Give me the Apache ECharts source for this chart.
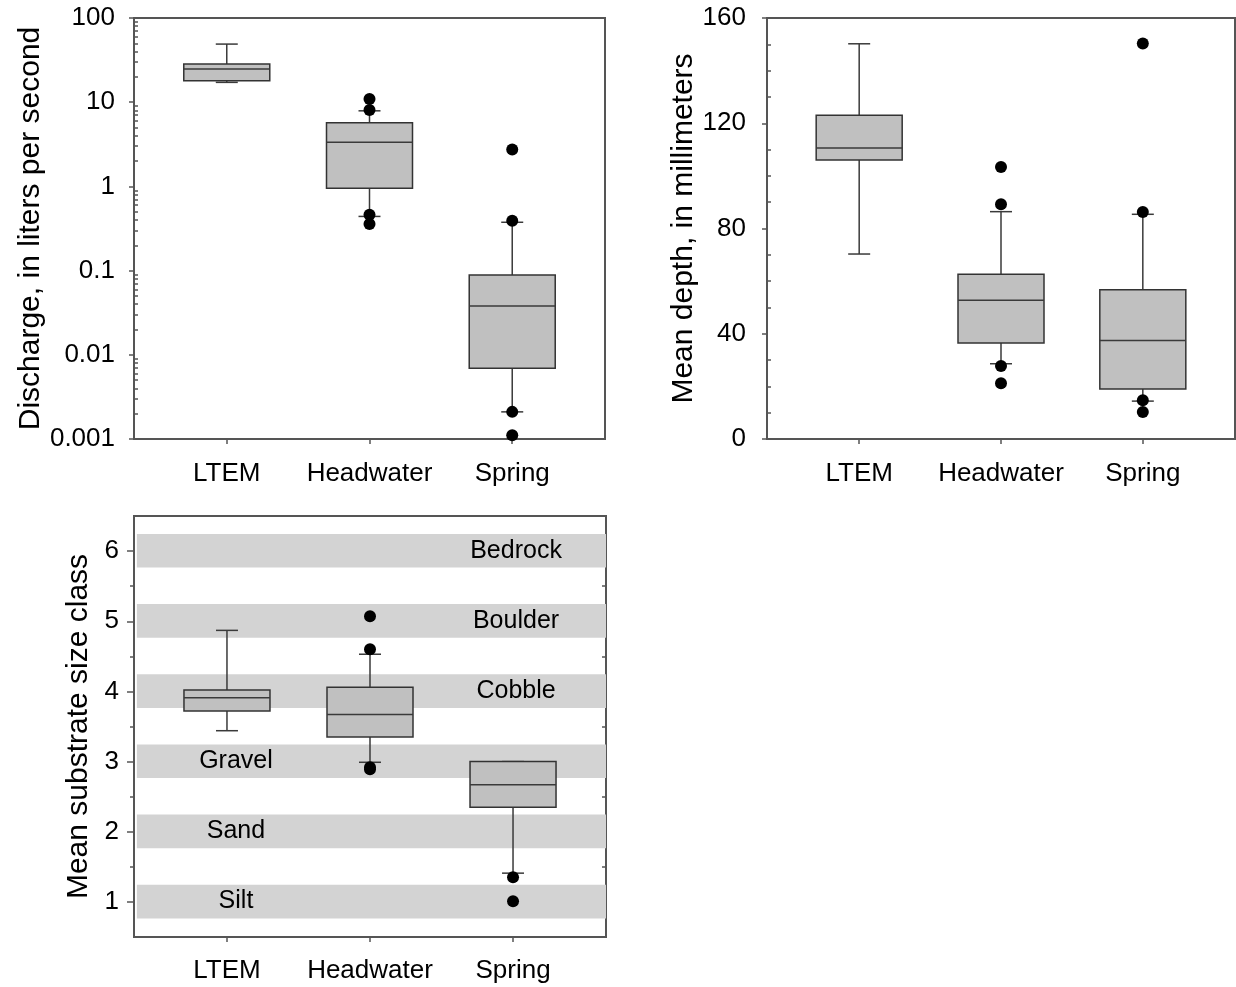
<!DOCTYPE html>
<html><head><meta charset="utf-8">
<script src="https://cdn.jsdelivr.net/npm/echarts@6/dist/echarts.min.js"></script>
<style>html,body{margin:0;padding:0;background:#fff}#c{width:1236px;height:987px}</style>
</head><body><div id="c"></div>
<script>
const categories = ['LTEM', 'Headwater', 'Spring'];
// box statistics: [min, Q1, median, Q3, max]
const dischargeBoxes = [[17.2, 18, 24.8, 28.5, 49], [0.44, 0.95, 3.34, 5.7, 7.9], [0.0021, 0.0069, 0.038, 0.0887, 0.375]];
const dischargeOutliers = [[], [10.9, 8.1, 0.46, 0.357], [2.75, 0.39, 0.0021, 0.00111]];
const depthBoxes = [[70.3, 106, 110.6, 123, 150.2], [28.6, 36.5, 52.7, 62.6, 86.4], [14.4, 19, 37.4, 56.7, 85.4]];
const depthOutliers = [[], [103.4, 89.2, 27.7, 21.2], [150.3, 86.3, 14.7, 10.3]];
const substrateBoxes = [[3.44, 3.72, 3.91, 4.02, 4.87], [2.99, 3.35, 3.67, 4.06, 4.53], [1.41, 2.35, 2.67, 3.0, 3.0]];
const substrateOutliers = [[], [5.07, 4.6, 2.92, 2.89], [1.35, 1.01]];
const sizeClasses = [1, 2, 3, 4, 5, 6];
const sizeClassNames = ['Silt', 'Sand', 'Gravel', 'Cobble', 'Boulder', 'Bedrock'];
const depthTicks = [0, 40, 80, 120, 160];
const substrateTicks = [1, 2, 3, 4, 5, 6];

const FONT = '"Liberation Sans", Arial, sans-serif';
const FRAME = '#555';
const TXT = '#000';
const catPos = categories.map((c, i) => i + 1);

function boxData(boxes) { return boxes.map((b, i) => [i + 1].concat(b)); }
function outlierData(outs) { const r = []; outs.forEach((o, i) => o.forEach(v => r.push([i + 1, v]))); return r; }

function renderBox(params, api) {
  const x = api.value(0);
  const pMin = api.coord([x, api.value(1)]);
  const pQ1 = api.coord([x, api.value(2)]);
  const pMed = api.coord([x, api.value(3)]);
  const pQ3 = api.coord([x, api.value(4)]);
  const pMax = api.coord([x, api.value(5)]);
  const cx = pQ1[0], hw = 43, cw = 11;
  const ls = { stroke: '#3a3a3a', lineWidth: 1.5, fill: null };
  return { type: 'group', children: [
    { type: 'line', shape: { x1: cx, y1: pQ3[1], x2: cx, y2: pMax[1] }, style: ls },
    { type: 'line', shape: { x1: cx, y1: pQ1[1], x2: cx, y2: pMin[1] }, style: ls },
    { type: 'line', shape: { x1: cx - cw, y1: pMax[1], x2: cx + cw, y2: pMax[1] }, style: ls },
    { type: 'line', shape: { x1: cx - cw, y1: pMin[1], x2: cx + cw, y2: pMin[1] }, style: ls },
    { type: 'rect', shape: { x: cx - hw, y: pQ3[1], width: 2 * hw, height: pQ1[1] - pQ3[1] }, style: { fill: '#c0c0c0', stroke: '#333', lineWidth: 1.5 } },
    { type: 'line', shape: { x1: cx - hw, y1: pMed[1], x2: cx + hw, y2: pMed[1] }, style: ls }
  ] };
}

function renderBand(params, api) {
  const c = api.value(0);
  const lo = api.coord([0.37, c - 0.235]);
  const hi = api.coord([3.65, c + 0.245]);
  const mid = api.coord([c <= 3 ? 1 : 3, c + 0.005]);
  return { type: 'group', children: [
    { type: 'rect', shape: { x: lo[0], y: hi[1], width: hi[0] - lo[0], height: lo[1] - hi[1] }, style: { fill: '#d3d3d3' } },
    { type: 'text', x: mid[0] + (c <= 3 ? 9 : 3), y: mid[1], style: { text: sizeClassNames[api.value(1)], fill: TXT, font: '25px ' + FONT, align: 'center', verticalAlign: 'middle' } }
  ] };
}

function xAx(g, margin) {
  return { type: 'value', gridIndex: g, min: 0.35, max: 3.65,
    axisLine: { show: true, onZero: false, lineStyle: { color: FRAME, width: 2 } },
    axisTick: { show: true, customValues: catPos, length: 5, inside: false, lineStyle: { color: FRAME, width: 1.5 } },
    axisLabel: { customValues: catPos, formatter: v => categories[Math.round(v) - 1], fontSize: 26, color: TXT, fontFamily: FONT, margin: margin },
    splitLine: { show: false } };
}
function overlayY(g, min, max, ticks, inside, len, pos) {
  return { type: 'value', gridIndex: g, min: min, max: max, position: pos || 'left',
    axisLine: { show: false, onZero: false }, axisLabel: { show: false }, splitLine: { show: false },
    axisTick: { show: true, customValues: ticks, inside: inside, length: len, lineStyle: { color: FRAME, width: 1.5 } } };
}
const logMinor = [];
for (let k = -3; k <= 1; k++) for (let m = 2; m <= 9; m++) logMinor.push(k + Math.log10(m));
const halves = substrateTicks.slice(0, -1).map(v => v + 0.5);
const depthMinor = [];
for (let v = 10; v < 160; v += 10) if (v % 40) depthMinor.push(v);

const nameStyle = { fontSize: 30, color: TXT, fontFamily: FONT };
const labStyle = { fontSize: 26, color: TXT, fontFamily: FONT };
const dotStyle = { color: '#000', opacity: 1 };

const option = {
  animation: false,
  backgroundColor: '#fff',
  grid: [
    { left: 134, top: 18, width: 471, height: 421, show: true, borderColor: FRAME, borderWidth: 2, containLabel: false },
    { left: 767, top: 18, width: 468, height: 421, show: true, borderColor: FRAME, borderWidth: 2, containLabel: false },
    { left: 134, top: 516, width: 472, height: 421, show: true, borderColor: FRAME, borderWidth: 2, containLabel: false }
  ],
  xAxis: [xAx(0, 22), xAx(1, 22), xAx(2, 21)],
  yAxis: [
    { type: 'log', gridIndex: 0, logBase: 10, min: 0.001, max: 100, splitNumber: 5,
      axisLine: { show: true, onZero: false, lineStyle: { color: FRAME, width: 2 } },
      axisTick: { show: true, inside: false, length: 5, lineStyle: { color: FRAME, width: 1.5 } },
      axisLabel: Object.assign({ margin: 19, formatter: v => String(+(+v).toPrecision(3)) }, labStyle),
      splitLine: { show: false },
      name: 'Discharge, in liters per second', nameLocation: 'middle', nameGap: 86, nameRotate: 90, nameTextStyle: nameStyle },
    overlayY(0, -3, 2, logMinor, true, 4),
    { type: 'value', gridIndex: 1, min: 0, max: 160,
      axisLine: { show: true, onZero: false, lineStyle: { color: FRAME, width: 2 } },
      axisTick: { show: true, customValues: depthTicks, inside: false, length: 5, lineStyle: { color: FRAME, width: 1.5 } },
      axisLabel: Object.assign({ margin: 21, customValues: depthTicks }, labStyle),
      splitLine: { show: false },
      name: 'Mean depth, in millimeters', nameLocation: 'middle', nameGap: 68, nameRotate: 90, nameTextStyle: nameStyle },
    overlayY(1, 0, 160, depthMinor, true, 4),
    { type: 'value', gridIndex: 2, min: 0.5, max: 6.5,
      axisLine: { show: true, onZero: false, lineStyle: { color: FRAME, width: 2 } },
      axisTick: { show: true, customValues: substrateTicks, inside: false, length: 7, lineStyle: { color: FRAME, width: 1.5 } },
      axisLabel: Object.assign({ margin: 15, customValues: substrateTicks }, labStyle),
      splitLine: { show: false },
      name: 'Mean substrate size class', nameLocation: 'middle', nameGap: 40, nameRotate: 90, nameTextStyle: nameStyle },
    overlayY(2, 0.5, 6.5, halves, false, 4),
    overlayY(2, 0.5, 6.5, halves, true, 4, 'right')
  ],
  series: [
    { type: 'custom', xAxisIndex: 2, yAxisIndex: 4, z: 1, renderItem: renderBand,
      encode: { x: 0, y: 0 }, data: sizeClasses.map((c, i) => [c, i]), silent: true },
    { type: 'custom', xAxisIndex: 0, yAxisIndex: 0, z: 3, renderItem: renderBox,
      encode: { x: 0, y: [1, 2, 3, 4, 5] }, data: boxData(dischargeBoxes) },
    { type: 'scatter', xAxisIndex: 0, yAxisIndex: 0, z: 4, symbolSize: 12, itemStyle: dotStyle, data: outlierData(dischargeOutliers) },
    { type: 'custom', xAxisIndex: 1, yAxisIndex: 2, z: 3, renderItem: renderBox,
      encode: { x: 0, y: [1, 2, 3, 4, 5] }, data: boxData(depthBoxes) },
    { type: 'scatter', xAxisIndex: 1, yAxisIndex: 2, z: 4, symbolSize: 12, itemStyle: dotStyle, data: outlierData(depthOutliers) },
    { type: 'custom', xAxisIndex: 2, yAxisIndex: 4, z: 3, renderItem: renderBox,
      encode: { x: 0, y: [1, 2, 3, 4, 5] }, data: boxData(substrateBoxes) },
    { type: 'scatter', xAxisIndex: 2, yAxisIndex: 4, z: 4, symbolSize: 12, itemStyle: dotStyle, data: outlierData(substrateOutliers) }
  ]
};
const chart = echarts.init(document.getElementById('c'), null, { renderer: 'canvas' });
chart.setOption(option);
</script></body></html>
